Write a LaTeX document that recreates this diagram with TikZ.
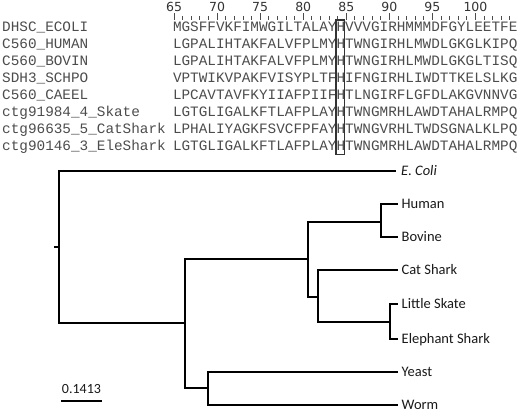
\documentclass[tikz,border=0pt]{standalone}
\usepackage{fontspec}
\setmainfont{Carlito}
\newfontfamily\monof{Liberation Mono}
\newfontfamily\numf{DejaVu Sans}
\tikzset{
  seqtxt/.style={inner sep=0pt, anchor=base west, text=black!70, font=\monof\fontsize{14.35}{16}\selectfont},
  rulenum/.style={inner sep=0pt, anchor=base, text=black!80, font=\numf\fontsize{12.5}{14}\selectfont},
  tick/.style={draw=black!70, line width=0.9pt},
  branch/.style={draw=black, line width=2.7pt, line cap=rect},
  leaflab/.style={inner sep=0pt, anchor=base west, text=black!90, font=\fontsize{14.5}{16}\selectfont},
  hbox/.style={draw=black!80, line width=1.1pt}
}
\begin{document}
\begin{tikzpicture}[x=1pt,y=-1pt]
\useasboundingbox (0,0) rectangle (520,412);
% ruler
\foreach \p in {65,...,104}{
  \pgfmathsetmacro{\xx}{172.8+(\p-65+0.15)*8.61}
  \draw[tick] (\xx,16.5) -- (\xx,20);
}
\foreach \p in {65,70,...,100}{
  \pgfmathsetmacro{\xx}{172.8+(\p-65+0.15)*8.61}
  \draw[tick] (\xx,13.5) -- (\xx,20);
  \node[rulenum] (n\p) at (\xx,11.5) {\p};
}
% alignment
\foreach \i/\lab/\s in {
  0/DHSC\_ECOLI/MGSFFVKFIMWGILTALAYHVVVGIRHMMMDFGYLEETFE,
  1/C560\_HUMAN/LGPALIHTAKFALVFPLMYHTWNGIRHLMWDLGKGLKIPQ,
  2/C560\_BOVIN/LGPALIHTAKFALVFPLMYHTWNGIRHLMWDLGKGLTISQ,
  3/SDH3\_SCHPO/VPTWIKVPAKFVISYPLTFHIFNGIRHLIWDTTKELSLKG,
  4/C560\_CAEEL/LPCAVTAVFKYIIAFPIIFHTLNGIRFLGFDLAKGVNNVG,
  5/ctg91984\_4\_Skate/LGTGLIGALKFTLAFPLAYHTWNGMRHLAWDTAHALRMPQ,
  6/ctg96635\_5\_CatShark/LPHALIYAGKFSVCFPFAYHTWNGVRHLTWDSGNALKLPQ,
  7/ctg90146\_3\_EleShark/LGTGLIGALKFTLAFPLAYHTWNGMRHLAWDTAHALRMPQ}{
  \pgfmathsetmacro{\yy}{27+\i*17+4.6}
  \node[seqtxt] (l\i) at (2,\yy) {\lab};
  \node[seqtxt] (s\i) at (172.8,\yy) {\s};
}
\draw[hbox] (336,20) rectangle (344.6,154.5);
% tree coordinates
\coordinate (stub) at (55,247);
\coordinate (R) at (59,247);
\coordinate (A) at (185,323);
\coordinate (B) at (308,259);
\coordinate (HB) at (381,222);
\coordinate (C) at (318,297);
\coordinate (SE) at (390,322);
\coordinate (YW) at (208,388);
\coordinate (ecoli) at (395,171);
\coordinate (human) at (397,204);
\coordinate (bovine) at (397,237);
\coordinate (cat) at (397,270);
\coordinate (skate) at (397,304);
\coordinate (ele) at (397,339);
\coordinate (yeast) at (397,372);
\coordinate (worm) at (397,405);
\draw[branch] (stub) -- (R);
\draw[branch] (R) |- (ecoli);
\draw[branch] (R) |- (A);
\draw[branch] (A) |- (B);
\draw[branch] (A) |- (YW);
\draw[branch] (B) |- (HB);
\draw[branch] (B) |- (C);
\draw[branch] (HB) |- (human);
\draw[branch] (HB) |- (bovine);
\draw[branch] (C) |- (cat);
\draw[branch] (C) |- (SE);
\draw[branch] (SE) |- (skate);
\draw[branch] (SE) |- (ele);
\draw[branch] (YW) |- (yeast);
\draw[branch] (YW) |- (worm);
% leaf labels
\node[leaflab] (tecoli) at ([xshift=6pt,yshift=-4.7pt]ecoli) {\itshape E. Coli};
\node[leaflab] (thuman) at ([xshift=4.5pt,yshift=-4.7pt]human) {Human};
\node[leaflab] (tbovine) at ([xshift=4.5pt,yshift=-4.7pt]bovine) {Bovine};
\node[leaflab] (tcat) at ([xshift=4.5pt,yshift=-4.7pt]cat) {Cat Shark};
\node[leaflab] (tskate) at ([xshift=4.5pt,yshift=-4.7pt]skate) {Little Skate};
\node[leaflab] (tele) at ([xshift=4.5pt,yshift=-4.7pt]ele) {Elephant Shark};
\node[leaflab] (tyeast) at ([xshift=4.5pt,yshift=-4.7pt]yeast) {Yeast};
\node[leaflab] (tworm) at ([xshift=4.5pt,yshift=-4.7pt]worm) {Worm};
% scale bar
\coordinate (sb1) at (61,401);
\coordinate (sb2) at (102,401);
\draw[branch, line cap=butt] (sb1) -- (sb2);
\node[inner sep=0pt, anchor=base, text=black!90, font=\fontsize{14}{16}\selectfont] (sblab) at (81.5,393) {0.1413};
\end{tikzpicture}
\end{document}
